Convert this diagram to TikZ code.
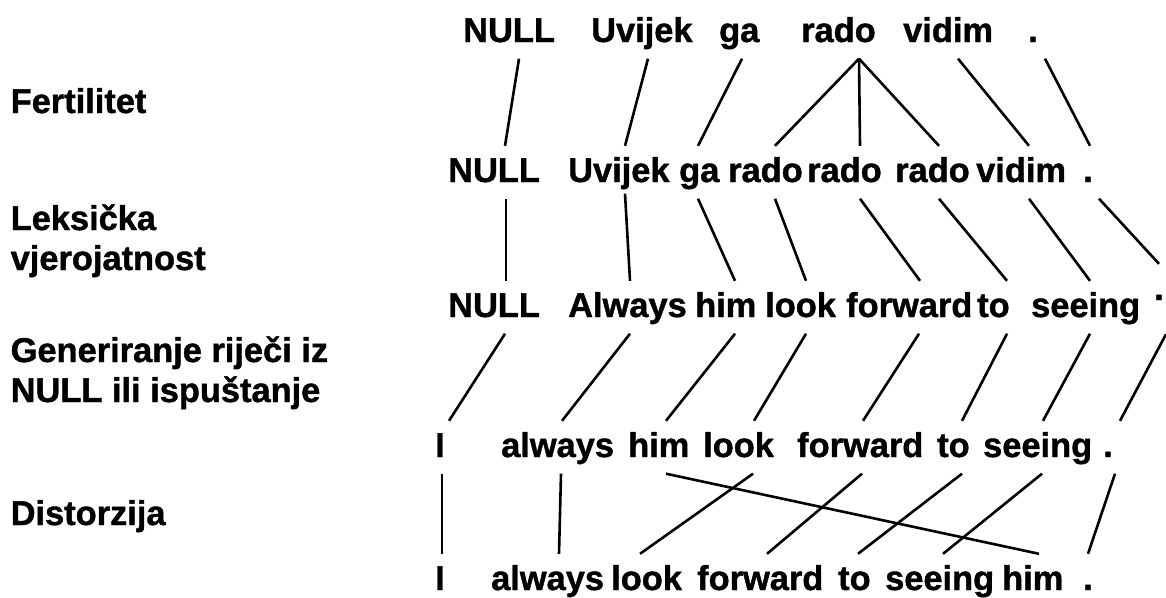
\documentclass[tikz,border=0pt]{standalone}
\usepackage{fontspec}
\setmainfont{Liberation Sans}[BoldFeatures={FakeBold=1.2}]
\newcommand\lk[4]{\draw[ln] ([xshift=#2pt]#1.south west) -- ([xshift=#4pt]#3.north west);}
\begin{document}
\begin{tikzpicture}[x=1pt,y=-1pt,
  wd/.style={anchor=base west, inner sep=0pt, text height=36pt, text depth=16.5pt,
             font=\fontsize{34.4}{40}\selectfont\bfseries},
  lbl/.style={anchor=base west, inner sep=0pt, font=\fontsize{34.4}{40}\selectfont\bfseries},
  ln/.style={line width=2.6pt}]
\useasboundingbox[fill=white] (0,0) rectangle (1166,597);
% left labels
\node[lbl] (l1) at (10.5,113) {Fertilitet};
\node[lbl] (l2a) at (10.5,230) {Leksička};
\node[lbl] (l2b) at (10.5,270) {vjerojatnost};
\node[lbl] (l3a) at (10.5,362) {Generiranje riječi iz};
\node[lbl] (l3b) at (10.5,402) {NULL ili ispuštanje};
\node[lbl] (l4) at (10.5,525) {Distorzija};
% row 1
\node[wd] (a1) at (463,42) {NULL};
\node[wd] (a2) at (591,42) {Uvijek};
\node[wd] (a3) at (719,42) {ga};
\node[wd] (a4) at (801,42) {rado};
\node[wd] (a5) at (903,42) {vidim};
\node[wd] (a6) at (1028,42) {.};
% row 2
\node[wd] (b1) at (448,182) {NULL};
\node[wd] (b2) at (568,182) {Uvijek};
\node[wd] (b3) at (679,182) {ga};
\node[wd] (b4) at (728,182) {rado};
\node[wd] (b5) at (807,182) {rado};
\node[wd] (b6) at (895,182) {rado};
\node[wd] (b7) at (976,182) {vidim};
\node[wd] (b8) at (1083,182) {.};
% row 3
\node[wd] (c1) at (448,317) {NULL};
\node[wd] (c2) at (568,317) {Always};
\node[wd] (c3) at (695,317) {him};
\node[wd] (c4) at (765,317) {look};
\node[wd] (c5) at (846,317) {forward};
\node[wd] (c6) at (977,317) {to};
\node[wd] (c7) at (1031,317) {seeing};
\node[wd] (c8) at (1154,300) {.};
% row 4
\node[wd] (d1) at (435,457) {I};
\node[wd] (d2) at (501,457) {always};
\node[wd] (d3) at (628,457) {him};
\node[wd] (d4) at (703,457) {look};
\node[wd] (d5) at (797,457) {forward};
\node[wd] (d6) at (937,457) {to};
\node[wd] (d7) at (983,457) {seeing};
\node[wd] (d8) at (1103,457) {.};
% row 5
\node[wd] (e1) at (435,590) {I};
\node[wd] (e2) at (491,590) {always};
\node[wd] (e3) at (611,590) {look};
\node[wd] (e4) at (697,590) {forward};
\node[wd] (e5) at (838,590) {to};
\node[wd] (e6) at (885,590) {seeing};
\node[wd] (e7) at (1002,590) {him};
\node[wd] (e8) at (1083,590) {.};
% band 1: fertility
\lk{a1}{56}{b1}{57}
\lk{a2}{57}{b2}{57}
\lk{a3}{23}{b3}{19}
\lk{a4}{58}{b4}{47}
\lk{a4}{58}{b5}{53}
\lk{a4}{58}{b6}{44}
\lk{a5}{55}{b7}{53}
\lk{a6}{17}{b8}{7}
% band 2: lexical translation
\lk{b1}{58}{c1}{58}
\draw[ln] ([xshift=57pt,yshift=5pt]b2.south west) -- ([xshift=62pt]c2.north west);
\lk{b3}{19}{c3}{40}
\lk{b4}{47}{c4}{41}
\lk{b5}{53}{c5}{74}
\lk{b6}{44}{c6}{30}
\lk{b7}{53}{c7}{59}
\lk{b8}{16}{c8}{5}
% band 3: NULL insertion / deletion
\lk{c1}{57}{d1}{14}
\lk{c2}{62}{d2}{61}
\lk{c3}{40}{d3}{38}
\lk{c4}{41}{d4}{51}
\lk{c5}{73}{d5}{66}
\lk{c6}{30}{d6}{25}
\lk{c7}{59}{d7}{60}
\draw[ln] ([xshift=12pt,yshift=-17.5pt]c8.south west) -- ([xshift=17pt]d8.north west);
% band 4: distortion
\lk{d1}{7}{e1}{7}
\lk{d2}{60}{e2}{68}
\lk{d3}{38}{e7}{37}
\lk{d4}{50}{e3}{29}
\lk{d5}{65}{e4}{70}
\lk{d6}{25}{e5}{20}
\lk{d7}{59}{e6}{58}
\lk{d8}{12}{e8}{5}
\end{tikzpicture}
\end{document}
